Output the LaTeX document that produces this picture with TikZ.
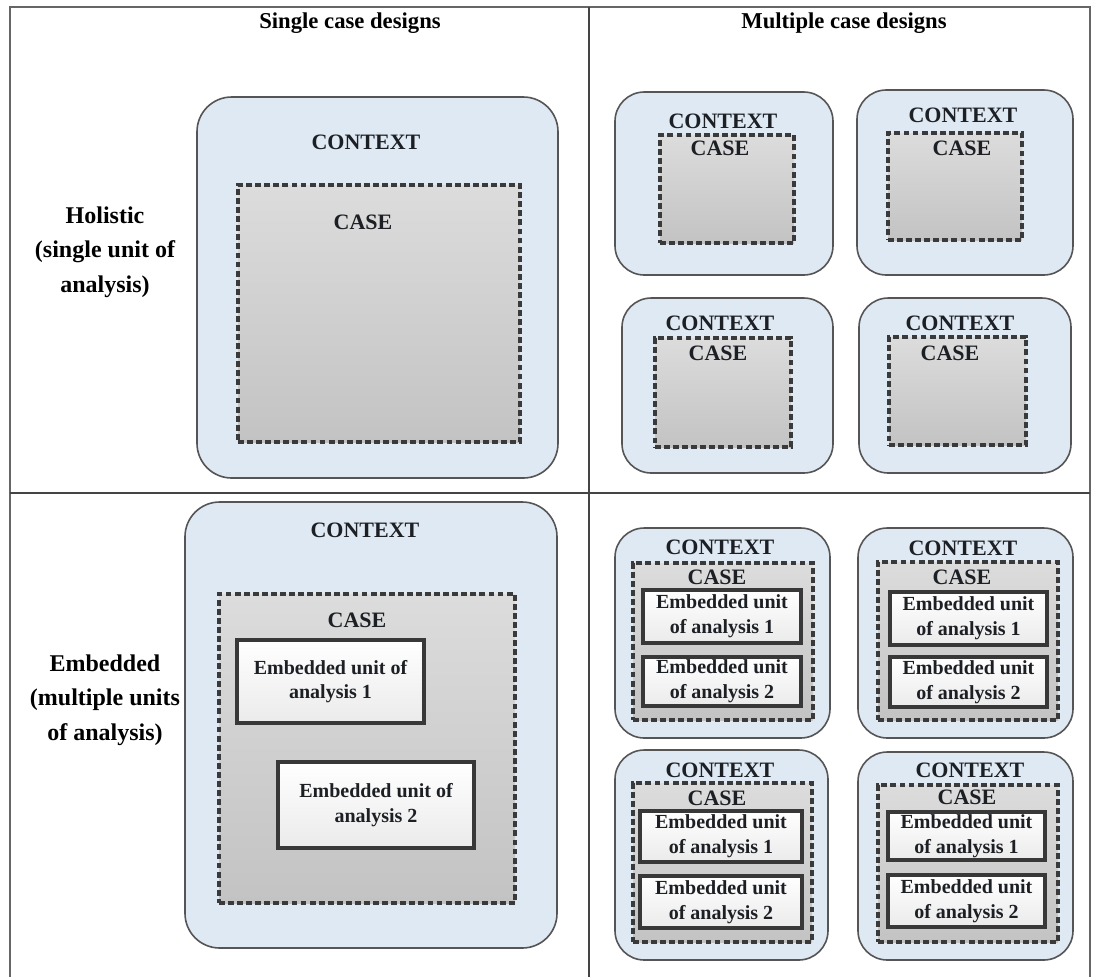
\documentclass[tikz,border=0pt]{standalone}
\usepackage{fontspec}
\setmainfont{Liberation Serif}
\usetikzlibrary{fit}

\definecolor{ctxfill}{HTML}{DFE9F3}
\definecolor{ctxline}{HTML}{555555}
\definecolor{caseline}{HTML}{3A3A3A}
\definecolor{casetop}{HTML}{DCDCDC}
\definecolor{casebot}{HTML}{C3C3C3}
\definecolor{unitline}{HTML}{383838}
\definecolor{ruleline}{HTML}{444444}
\definecolor{labeltext}{HTML}{1C1F24}

\begin{document}
\begin{tikzpicture}[x=0.75pt,y=-0.75pt,
  ctx/.style={draw=ctxline, fill=ctxfill, line width=1.2pt, rounded corners=#1, inner sep=0pt},
  ctx/.default=22pt,
  casebox/.style={draw=caseline, line width=2.3pt, dash pattern=on 4.4pt off 2.4pt,
                  top color=casetop, bottom color=casebot, inner sep=0pt},
  unitbox/.style={draw=unitline, line width=2.3pt, top color=white, bottom color=black!8, inner sep=0pt},
  lbl/.style={font=\bfseries\fontsize{16.5}{19}\selectfont, text=labeltext, align=center, inner sep=0pt},
  unitlbl/.style={font=\bfseries\fontsize{15}{18.5}\selectfont, text=labeltext, align=center, inner sep=0pt},
  head/.style={font=\bfseries\fontsize{17}{20}\selectfont, inner sep=0pt},
  rowlbl/.style={font=\bfseries\fontsize{18}{26}\selectfont, align=center, inner sep=0pt},
  frame/.style={draw=black!60, line width=2pt},
  divider/.style={draw=ruleline, line width=1.9pt}]

\useasboundingbox (0,0) rectangle (1093,976);

% outer frame and quadrant dividers
\draw[frame] (10,990) -- (10,7) -- (1090,7) -- (1090,990);
\coordinate (vtop) at (589,7);
\coordinate (vbot) at (589,990);
\coordinate (hl) at (10,493);
\coordinate (hr) at (1090,493);
\draw[divider] (vtop) -- (vbot);
\draw[divider] (hl) -- (hr);

% column and row headings
\node[head] (hsingle) at (350,23) {Single case designs};
\node[head] (hmulti) at (844,23) {Multiple case designs};
\node[rowlbl] (rholistic) at (105,252) {Holistic\\(single unit of\\analysis)};
\node[rowlbl] (rembedded) at (105,700) {Embedded\\(multiple units\\of analysis)};

% ---- single case, holistic ----
\node[ctx=26pt, fit={(197,97) (558,478)}] (ctxA) {};
\node[casebox, fit={(238,185) (520,442)}] (caseA) {};
\node[lbl] (ctxAt) at (366,142) {CONTEXT};
\node[lbl] (caseAt) at (363,222) {CASE};

% ---- multiple cases, holistic ----
\node[ctx, fit={(615,92) (833,275)}] (ctxB1) {};
\node[casebox, fit={(660,135) (794,243)}] (caseB1) {};
\node[lbl] at (723,121) (ctxB1t) {CONTEXT};
\node[lbl] at (720,148) (caseB1t) {CASE};

\node[ctx, fit={(857,90) (1073,275)}] (ctxB2) {};
\node[casebox, fit={(888,133) (1022,240)}] (caseB2) {};
\node[lbl] at (963,115) (ctxB2t) {CONTEXT};
\node[lbl] at (962,148) (caseB2t) {CASE};

\node[ctx, fit={(622,298) (833,473)}] (ctxB3) {};
\node[casebox, fit={(655,338) (791,447)}] (caseB3) {};
\node[lbl] at (720,323) (ctxB3t) {CONTEXT};
\node[lbl] at (718,353) (caseB3t) {CASE};

\node[ctx, fit={(859,298) (1071,473)}] (ctxB4) {};
\node[casebox, fit={(889,337) (1026,445)}] (caseB4) {};
\node[lbl] at (960,323) (ctxB4t) {CONTEXT};
\node[lbl] at (950,353) (caseB4t) {CASE};

% ---- single case, embedded ----
\node[ctx=26pt, fit={(185,502) (557,948)}] (ctxC) {};
\node[casebox, fit={(219,594) (515,903)}] (caseC) {};
\node[lbl] (ctxCt) at (365,530) {CONTEXT};
\node[lbl] (caseCt) at (357,620) {CASE};
\node[unitbox, fit={(237,640) (424,723)}] (unitC1) {};
\node[unitlbl] at (unitC1.center) (unitC1t) {Embedded unit of\\analysis 1};
\node[unitbox, fit={(278,762) (474,848)}] (unitC2) {};
\node[unitlbl] at (unitC2.center) (unitC2t) {Embedded unit of\\analysis 2};

% ---- multiple cases, embedded ----
\node[ctx, fit={(615,528) (830,738)}] (ctxD1) {};
\node[casebox, fit={(633,563) (813,720)}] (caseD1) {};
\node[lbl] at (720,547) (ctxD1t) {CONTEXT};
\node[lbl] at (717,577) (caseD1t) {CASE};
\node[unitbox, fit={(643,590) (801,643)}] (unitD1a) {};
\node[unitlbl] at (unitD1a.center) (unitD1at) {Embedded unit\\of analysis 1};
\node[unitbox, fit={(643,657) (801,706)}] (unitD1b) {};
\node[unitlbl] at (unitD1b.center) (unitD1bt) {Embedded unit\\of analysis 2};

\node[ctx, fit={(858,528) (1073,738)}] (ctxD2) {};
\node[casebox, fit={(878,562) (1058,720)}] (caseD2) {};
\node[lbl] at (963,548) (ctxD2t) {CONTEXT};
\node[lbl] at (962,577) (caseD2t) {CASE};
\node[unitbox, fit={(890,592) (1047,645)}] (unitD2a) {};
\node[unitlbl] at (unitD2a.center) (unitD2at) {Embedded unit\\of analysis 1};
\node[unitbox, fit={(890,657) (1047,707)}] (unitD2b) {};
\node[unitlbl] at (unitD2b.center) (unitD2bt) {Embedded unit\\of analysis 2};

\node[ctx, fit={(615,750) (828,960)}] (ctxD3) {};
\node[casebox, fit={(633,783) (812,942)}] (caseD3) {};
\node[lbl] at (720,770) (ctxD3t) {CONTEXT};
\node[lbl] at (717,798) (caseD3t) {CASE};
\node[unitbox, fit={(640,811) (802,862)}] (unitD3a) {};
\node[unitlbl] at (unitD3a.center) (unitD3at) {Embedded unit\\of analysis 1};
\node[unitbox, fit={(640,876) (802,928)}] (unitD3b) {};
\node[unitlbl] at (unitD3b.center) (unitD3bt) {Embedded unit\\of analysis 2};

\node[ctx, fit={(858,752) (1073,960)}] (ctxD4) {};
\node[casebox, fit={(878,785) (1058,942)}] (caseD4) {};
\node[lbl] at (970,770) (ctxD4t) {CONTEXT};
\node[lbl] at (967,797) (caseD4t) {CASE};
\node[unitbox, fit={(888,812) (1045,860)}] (unitD4a) {};
\node[unitlbl] at (unitD4a.center) (unitD4at) {Embedded unit\\of analysis 1};
\node[unitbox, fit={(888,875) (1045,927)}] (unitD4b) {};
\node[unitlbl] at (unitD4b.center) (unitD4bt) {Embedded unit\\of analysis 2};

\end{tikzpicture}
\end{document}
